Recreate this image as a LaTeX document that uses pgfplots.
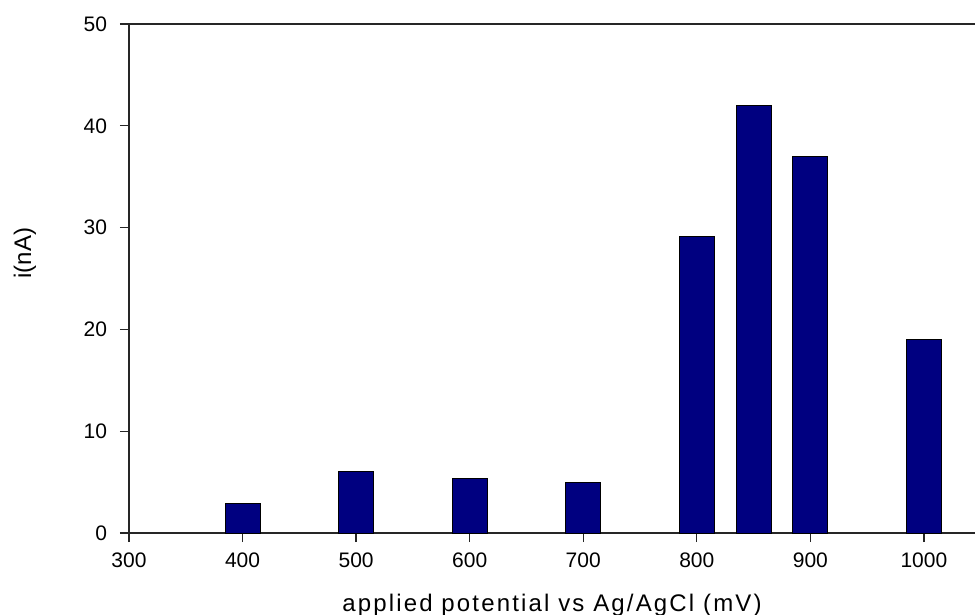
\documentclass[border=0pt]{standalone}
\usepackage{fontspec}
\setmainfont{Liberation Sans}
\usepackage{pgfplots}
\pgfplotsset{compat=1.18}
\definecolor{barnavy}{RGB}{0,0,128}
\begin{document}
\begin{tikzpicture}
\useasboundingbox (0,0) rectangle (487.5bp,307.5bp);
\begin{axis}[
  at={(64.5bp,41bp)}, anchor=south west,
  scale only axis, width=423bp, height=254.5bp,
  xmin=300, xmax=1045, ymin=0, ymax=50,
  axis x line*=box, axis y line*=left,
  xtick={300,400,...,1000}, ytick={0,10,...,50},
  xtick pos=bottom, ytick pos=left,
  tick align=outside, major tick length=4.5bp,
  axis line style={line width=0.65bp, color=black!85},
  every tick/.style={line width=0.65bp, color=black!85},
  /pgf/number format/assume math mode=true,
  /pgf/number format/1000 sep={},
  tick label style={font=\fontsize{10.5bp}{12bp}\selectfont},
  xticklabel style={yshift=-2bp},
  yticklabel style={xshift=-3bp},
  xlabel={\addfontfeature{LetterSpace=9}applied potential vs Ag/AgCl (mV)},
  ylabel={i(nA)},
  label style={font=\fontsize{12bp}{14bp}\selectfont},
  xlabel style={at={(rel axis cs:0.5,0)}, anchor=center, yshift=-36bp},
  ylabel style={at={(rel axis cs:0,0.55)}, anchor=center, rotate=0, yshift=52bp},
  clip=false,
]
\addplot[ybar, bar width=17.5bp, fill=barnavy, draw=black, line width=0.5bp] coordinates {
  (400,2.9) (500,6.0) (600,5.4) (700,4.95) (800,29.1) (850,42.0) (900,37.0) (1000,19.0)
};
\end{axis}
\end{tikzpicture}
\end{document}
